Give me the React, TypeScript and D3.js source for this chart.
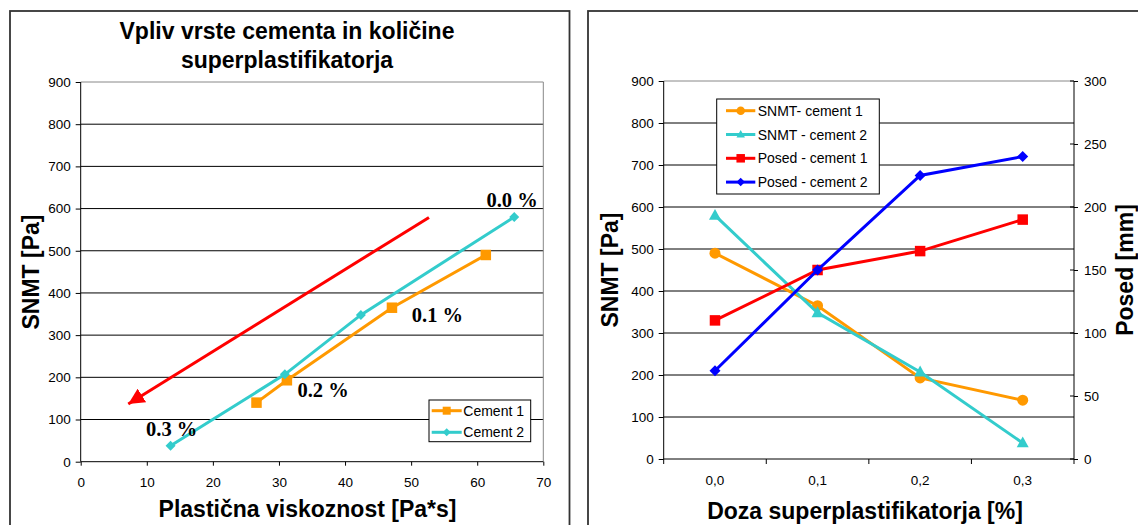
import React, { useEffect, useRef } from 'react';
import * as d3 from 'd3';

// left chart: plastic viscosity vs SNMT
const viscCement1 = [26.6, 31.2, 47.1, 61.3];
const snmtCement1 = [140, 193, 365, 490];
const viscCement2 = [13.6, 30.9, 42.4, 65.6];
const snmtCement2 = [38, 207, 348, 580];
const doseLabels = ['0.3 %', '0.2 %', '0.1 %', '0.0 %'];
const doseLabelAnchors: [number, number][] = [[9.9, 61], [32.8, 154], [50.1, 331], [61.4, 603]];
const arrowFrom: [number, number] = [52.7, 579];
const arrowTo: [number, number] = [7.2, 137];
const xTicksLeft = [0, 10, 20, 30, 40, 50, 60, 70];
const yTicksSnmt = [0, 100, 200, 300, 400, 500, 600, 700, 800, 900];

// right chart: dose of superplasticizer
const doses = ['0,0', '0,1', '0,2', '0,3'];
const snmtDose1 = [490, 365, 193, 140];
const snmtDose2 = [580, 348, 207, 38];
const posedDose1 = [110, 150, 165, 190];
const posedDose2 = [70, 150, 225, 240];
const yTicksPosed = [0, 50, 100, 150, 200, 250, 300];

const SANS = '"Liberation Sans", Arial, Helvetica, sans-serif';
const SERIF = '"Liberation Serif", "Times New Roman", serif';
const ORANGE = '#FF9900';
const TEAL = '#33CCCC';
const RED = '#FF0000';
const BLUE = '#0000FF';

type Marker = 'square' | 'diamond' | 'circle' | 'triangle';

function drawMarker(g: any, kind: Marker, x: number, y: number, s: number, color: string) {
  if (kind === 'square') {
    g.append('rect').attr('x', x - s / 2).attr('y', y - s / 2).attr('width', s).attr('height', s).attr('fill', color);
  } else if (kind === 'diamond') {
    const r = s / 2;
    g.append('path').attr('d', `M${x},${y - r}L${x + r},${y}L${x},${y + r}L${x - r},${y}Z`).attr('fill', color);
  } else if (kind === 'circle') {
    g.append('circle').attr('cx', x).attr('cy', y).attr('r', s / 2).attr('fill', color);
  } else {
    const h = s * 0.9;
    g.append('path')
      .attr('d', `M${x},${y - h * 0.6}L${x + s / 2},${y + h * 0.4}L${x - s / 2},${y + h * 0.4}Z`)
      .attr('fill', color);
  }
}

function styleAxis(sel: any) {
  sel.select('.domain').remove();
  sel.selectAll('.tick line').attr('stroke', '#000');
  sel.selectAll('text').attr('fill', '#000').style('font-family', SANS).style('font-size', '13.5px');
}

export default function App() {
  const svgRef = useRef<SVGSVGElement | null>(null);

  useEffect(() => {
    if (!svgRef.current) return;
    const svg = d3.select(svgRef.current);
    svg.selectAll('*').remove();

    // panel frames
    svg.append('rect').attr('x', 10).attr('y', 11).attr('width', 559.5).attr('height', 530)
      .attr('fill', 'none').attr('stroke', '#333').attr('stroke-width', 1.8);
    svg.append('rect').attr('x', 588).attr('y', 11).attr('width', 570).attr('height', 530)
      .attr('fill', 'none').attr('stroke', '#333').attr('stroke-width', 1.8);

    // ---------------- left chart ----------------
    const L = { left: 80.7, right: 543.3, top: 82, bottom: 461.7 };
    const xL = d3.scaleLinear().domain([0, 70]).range([L.left, L.right]);
    const yL = d3.scaleLinear().domain([0, 900]).range([L.bottom, L.top]);
    const gL = svg.append('g');

    gL.selectAll('.grid').data(yTicksSnmt.filter((d) => d > 0 && d < 900)).enter()
      .append('line')
      .attr('x1', L.left).attr('x2', L.right)
      .attr('y1', (d) => yL(d)).attr('y2', (d) => yL(d))
      .attr('stroke', '#000').attr('stroke-width', 1);
    gL.append('path').attr('d', `M${L.left},${L.top}H${L.right}V${L.bottom}`)
      .attr('fill', 'none').attr('stroke', '#888').attr('stroke-width', 1);

    gL.append('g').attr('transform', `translate(0,${L.bottom})`)
      .call(d3.axisBottom(xL).tickValues(xTicksLeft).tickSize(4).tickPadding(12).tickFormat((d) => `${d}`))
      .call(styleAxis);
    gL.append('g').attr('transform', `translate(${L.left},0)`)
      .call(d3.axisLeft(yL).tickValues(yTicksSnmt).tickSize(5).tickPadding(5).tickFormat((d) => `${d}`))
      .call(styleAxis);
    gL.append('line').attr('x1', L.left).attr('x2', L.left).attr('y1', L.top).attr('y2', L.bottom).attr('stroke', '#000');
    gL.append('line').attr('x1', L.left).attr('x2', L.right).attr('y1', L.bottom).attr('y2', L.bottom).attr('stroke', '#000');

    // arrow
    const defs = svg.append('defs');
    defs.append('marker').attr('id', 'arrowhead').attr('markerUnits', 'userSpaceOnUse')
      .attr('markerWidth', 18).attr('markerHeight', 16).attr('refX', 16).attr('refY', 8)
      .attr('orient', 'auto')
      .append('path').attr('d', 'M0,0L16,8L0,16Z').attr('fill', RED);
    gL.append('line')
      .attr('x1', xL(arrowFrom[0])).attr('y1', yL(arrowFrom[1]))
      .attr('x2', xL(arrowTo[0])).attr('y2', yL(arrowTo[1]))
      .attr('stroke', RED).attr('stroke-width', 3).attr('marker-end', 'url(#arrowhead)');

    const line = d3.line<[number, number]>().x((d) => xL(d[0])).y((d) => yL(d[1]));
    const c1 = viscCement1.map((v, i) => [v, snmtCement1[i]] as [number, number]);
    const c2 = viscCement2.map((v, i) => [v, snmtCement2[i]] as [number, number]);
    gL.append('path').datum(c1).attr('d', line).attr('fill', 'none').attr('stroke', ORANGE).attr('stroke-width', 3);
    c1.forEach((d) => drawMarker(gL, 'square', xL(d[0]), yL(d[1]), 10.5, ORANGE));
    gL.append('path').datum(c2).attr('d', line).attr('fill', 'none').attr('stroke', TEAL).attr('stroke-width', 3);
    c2.forEach((d) => drawMarker(gL, 'diamond', xL(d[0]), yL(d[1]), 10, TEAL));

    doseLabels.forEach((t, i) => {
      gL.append('text').attr('x', xL(doseLabelAnchors[i][0])).attr('y', yL(doseLabelAnchors[i][1]))
        .style('font-family', SERIF).style('font-weight', 'bold').style('font-size', '20.5px')
        .attr('fill', '#000').text(t);
    });

    // left legend
    const lg = gL.append('g').attr('transform', 'translate(429,400)');
    lg.append('rect').attr('width', 101.7).attr('height', 41.7).attr('fill', '#fff').attr('stroke', '#000');
    [
      { name: 'Cement 1', color: ORANGE, kind: 'square' as Marker, y: 10.7 },
      { name: 'Cement 2', color: TEAL, kind: 'diamond' as Marker, y: 32.3 },
    ].forEach((e) => {
      lg.append('line').attr('x1', 2.7).attr('x2', 32.7).attr('y1', e.y).attr('y2', e.y).attr('stroke', e.color).attr('stroke-width', 3);
      drawMarker(lg, e.kind, 17.7, e.y, 8, e.color);
      lg.append('text').attr('x', 34.3).attr('y', e.y).attr('dy', '0.36em')
        .style('font-family', SANS).style('font-size', '14px').attr('fill', '#000').text(e.name);
    });

    // titles
    const title = svg.append('text').attr('x', 287).attr('text-anchor', 'middle')
      .style('font-family', SANS).style('font-weight', 'bold').style('font-size', '23px').attr('fill', '#000');
    title.append('tspan').attr('x', 287).attr('y', 39.3).text('Vpliv vrste cementa in količine');
    title.append('tspan').attr('x', 287).attr('y', 68.3).text('superplastifikatorja');

    const axisTitle = (x: number, y: number, rot: number, t: string) =>
      svg.append('text').attr('transform', `translate(${x},${y}) rotate(${rot})`).attr('text-anchor', 'middle')
        .style('font-family', SANS).style('font-weight', 'bold').style('font-size', '23px').attr('fill', '#000').text(t);
    axisTitle(307.5, 517.3, 0, 'Plastična viskoznost [Pa*s]');
    axisTitle(39, 272, -90, 'SNMT [Pa]');

    // ---------------- right chart ----------------
    const R = { left: 663.7, right: 1074, top: 81, bottom: 459 };
    const xR = d3.scaleBand().domain(doses).range([R.left, R.right]).padding(0);
    const yR = d3.scaleLinear().domain([0, 900]).range([R.bottom, R.top]);
    const yR2 = d3.scaleLinear().domain([0, 300]).range([R.bottom, R.top]);
    const gR = svg.append('g');
    const cx = (d: string) => (xR(d) as number) + xR.bandwidth() / 2;

    gR.selectAll('.grid').data(yTicksSnmt.filter((d) => d > 0 && d < 900)).enter()
      .append('line')
      .attr('x1', R.left).attr('x2', R.right)
      .attr('y1', (d) => yR(d)).attr('y2', (d) => yR(d))
      .attr('stroke', '#000').attr('stroke-width', 1);
    gR.append('line').attr('x1', R.left).attr('x2', R.right).attr('y1', R.top).attr('y2', R.top).attr('stroke', '#888');

    gR.append('g').attr('transform', `translate(0,${R.bottom})`)
      .call(d3.axisBottom(xR).tickSize(0).tickPadding(16))
      .call(styleAxis);
    // band boundary ticks
    gR.selectAll('.bt').data(doses.concat(['end'])).enter().append('line')
      .attr('x1', (d, i) => R.left + i * xR.bandwidth()).attr('x2', (d, i) => R.left + i * xR.bandwidth())
      .attr('y1', R.bottom).attr('y2', R.bottom + 5).attr('stroke', '#000');
    gR.append('g').attr('transform', `translate(${R.left},0)`)
      .call(d3.axisLeft(yR).tickValues(yTicksSnmt).tickSize(5).tickPadding(5).tickFormat((d) => `${d}`))
      .call(styleAxis);
    gR.append('g').attr('transform', `translate(${R.right},0)`)
      .call(d3.axisRight(yR2).tickValues(yTicksPosed).tickSize(4).tickPadding(6).tickFormat((d) => `${d}`))
      .call(styleAxis);
    gR.selectAll('.rt').data(yTicksPosed).enter().append('line')
      .attr('x1', R.right - 4).attr('x2', R.right).attr('y1', (d) => yR2(d)).attr('y2', (d) => yR2(d)).attr('stroke', '#000');
    gR.append('line').attr('x1', R.left).attr('x2', R.left).attr('y1', R.top).attr('y2', R.bottom).attr('stroke', '#000');
    gR.append('line').attr('x1', R.right).attr('x2', R.right).attr('y1', R.top).attr('y2', R.bottom).attr('stroke', '#000');
    gR.append('line').attr('x1', R.left).attr('x2', R.right).attr('y1', R.bottom).attr('y2', R.bottom).attr('stroke', '#000');

    const series = [
      { name: 'SNMT- cement 1', vals: snmtDose1, scale: yR, color: ORANGE, kind: 'circle' as Marker, size: 11 },
      { name: 'SNMT - cement 2', vals: snmtDose2, scale: yR, color: TEAL, kind: 'triangle' as Marker, size: 12 },
      { name: 'Posed - cement 1', vals: posedDose1, scale: yR2, color: RED, kind: 'square' as Marker, size: 10.5 },
      { name: 'Posed - cement 2', vals: posedDose2, scale: yR2, color: BLUE, kind: 'diamond' as Marker, size: 11 },
    ];
    series.forEach((s) => {
      const ln = d3.line<number>().x((d, i) => cx(doses[i])).y((d) => s.scale(d));
      gR.append('path').datum(s.vals).attr('d', ln).attr('fill', 'none').attr('stroke', s.color).attr('stroke-width', 3);
      s.vals.forEach((v, i) => drawMarker(gR, s.kind, cx(doses[i]), s.scale(v), s.size, s.color));
    });

    // right legend
    const rg = gR.append('g').attr('transform', 'translate(716.7,99)');
    rg.append('rect').attr('width', 162.6).attr('height', 95).attr('fill', '#fff').attr('stroke', '#000');
    series.forEach((s, i) => {
      const y = 11.7 + i * 23.8;
      rg.append('line').attr('x1', 9.3).attr('x2', 38.6).attr('y1', y).attr('y2', y).attr('stroke', s.color).attr('stroke-width', 3);
      drawMarker(rg, s.kind, 24, y, 8.5, s.color);
      rg.append('text').attr('x', 41).attr('y', y).attr('dy', '0.36em')
        .style('font-family', SANS).style('font-size', '14px').attr('fill', '#000').text(s.name);
    });

    axisTitle(865, 519, 0, 'Doza superplastifikatorja [%]');
    axisTitle(618, 270, -90, 'SNMT [Pa]');
    axisTitle(1132.5, 270, -90, 'Posed [mm]');
  }, []);

  return (
    <svg
      ref={svgRef}
      width={1138}
      height={525}
      style={{ position: 'absolute', left: 0, top: 0, background: '#fff', display: 'block' }}
    />
  );
}
